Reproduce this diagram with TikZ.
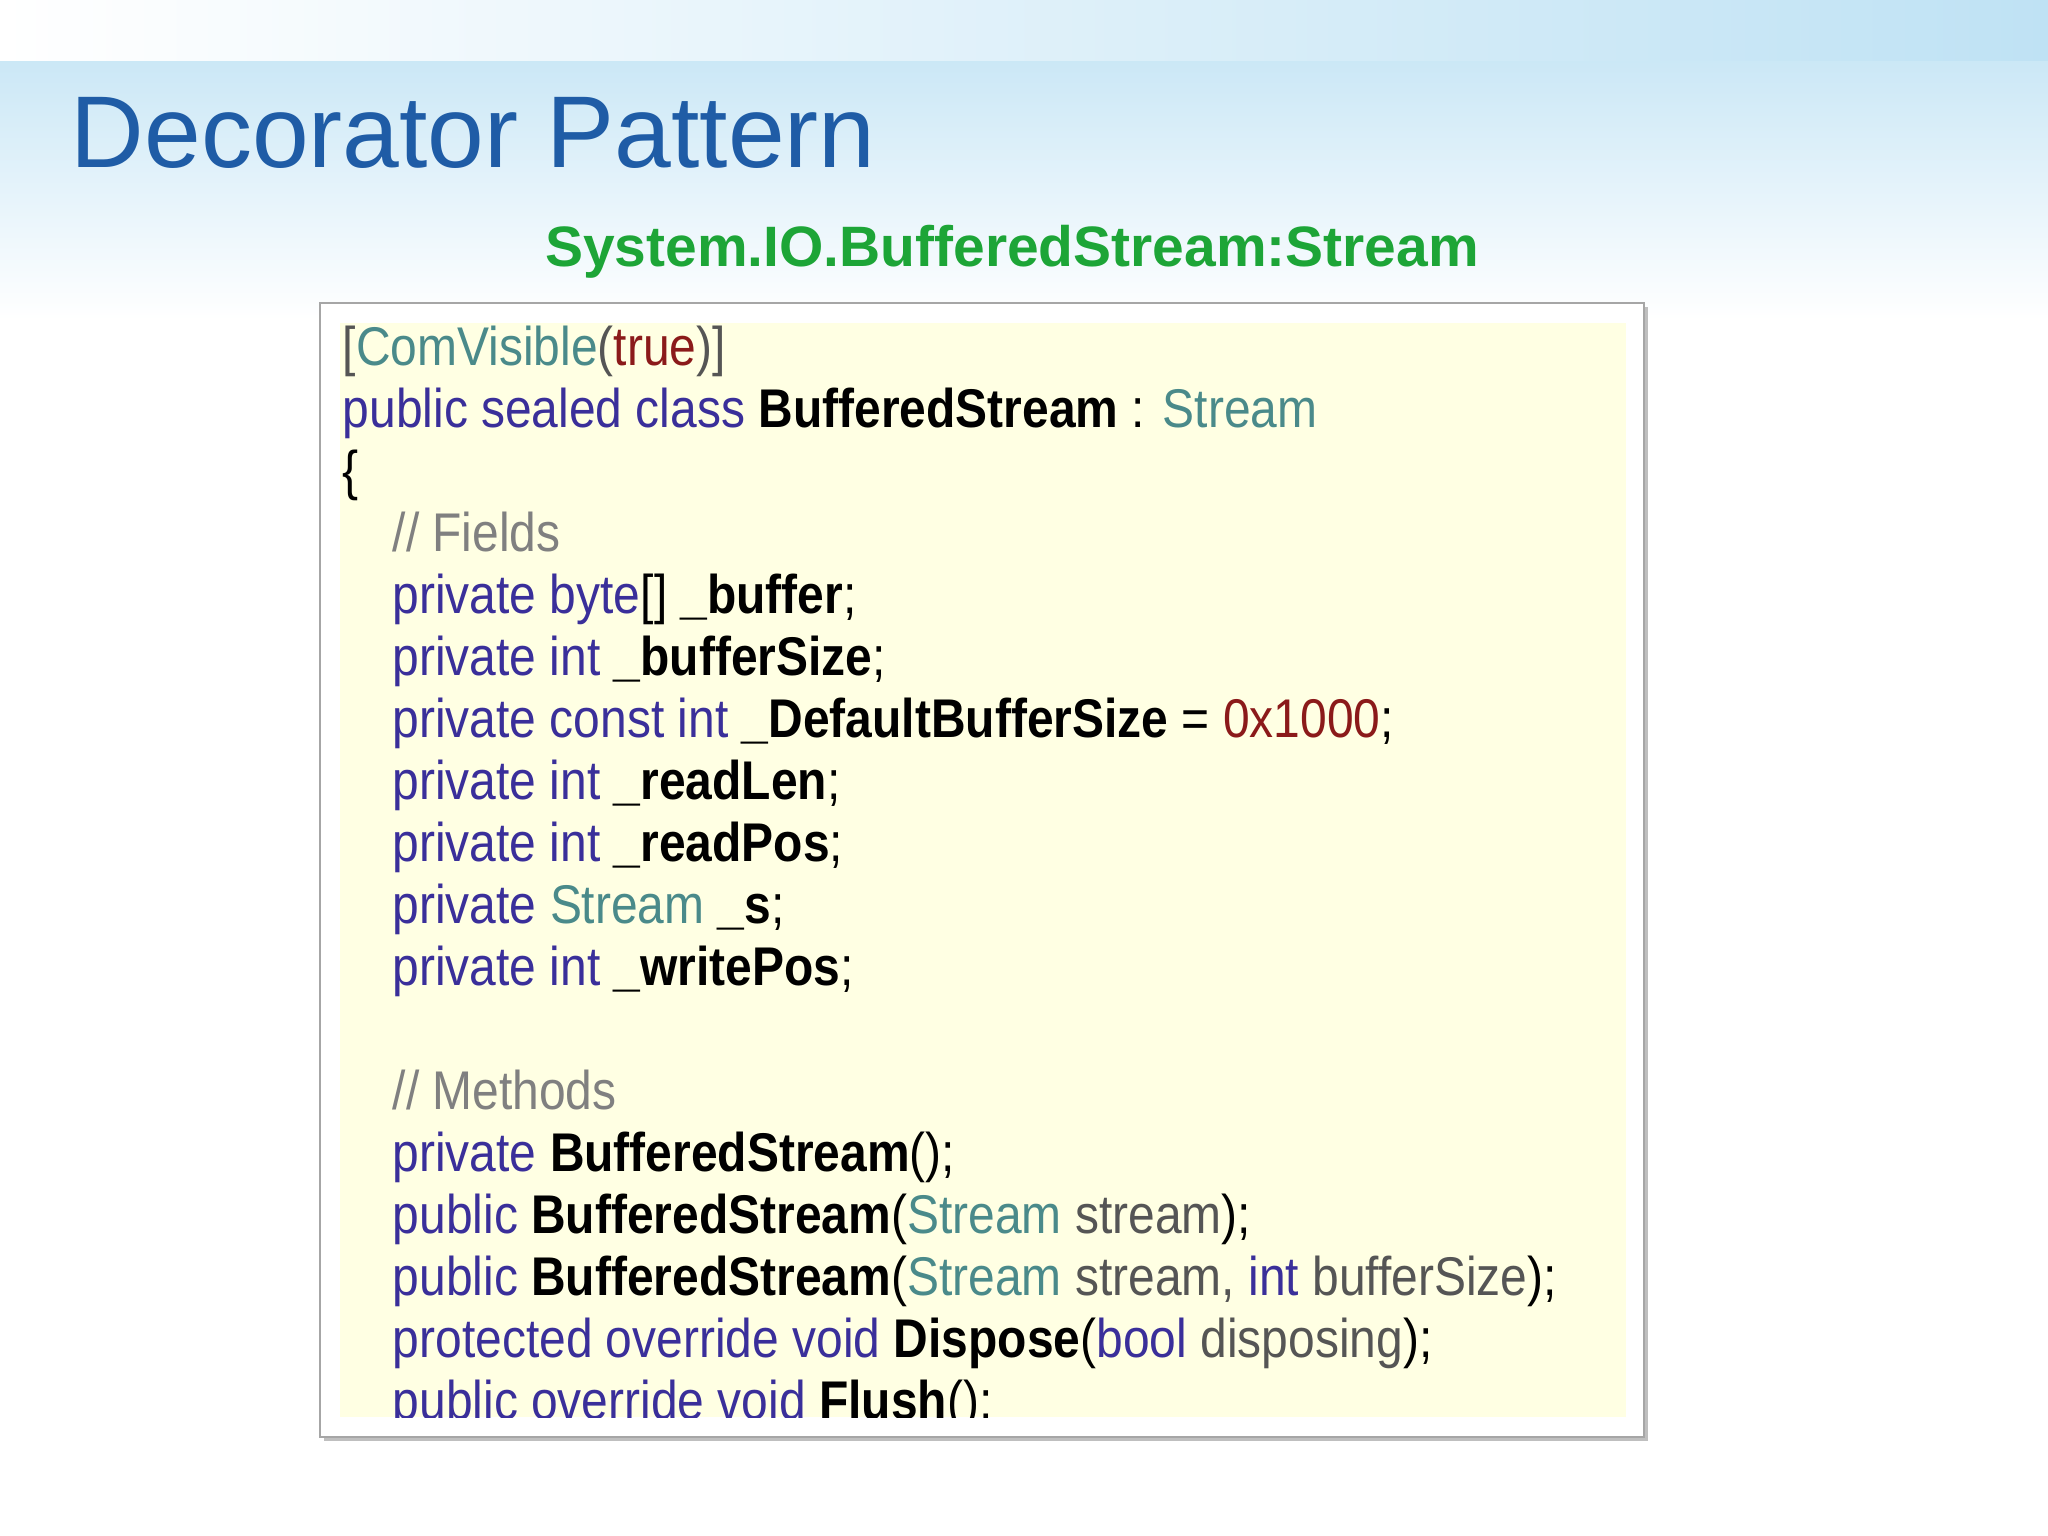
\documentclass[tikz,border=0pt]{standalone}
\usepackage{fontspec}
\setmainfont{Liberation Sans}
\newfontfamily\codefont[FakeStretch=0.88]{Liberation Sans}
\definecolor{titleblue}{HTML}{1F5CA6}
\definecolor{subgreen}{HTML}{1DA537}
\definecolor{kwc}{HTML}{3A2F9A}
\definecolor{tyc}{HTML}{4A8A8A}
\definecolor{cmc}{HTML}{808080}
\definecolor{strc}{HTML}{8B1A1A}
\definecolor{pc}{HTML}{555555}
\definecolor{codebg}{HTML}{FFFFE3}
\definecolor{skyblue}{HTML}{BFE2F4}
\newcommand{\kw}[1]{\textcolor{kwc}{#1}}
\newcommand{\ty}[1]{\textcolor{tyc}{#1}}
\newcommand{\cmt}[1]{\textcolor{cmc}{#1}}
\newcommand{\idn}[1]{\textbf{#1}}
\newcommand{\prm}[1]{\textcolor{pc}{#1}}
\tikzset{codeline/.style={anchor=base west,inner sep=0pt,font=\codefont\fontsize{15.5}{18}\selectfont}}
\begin{document}
\begin{tikzpicture}[x=0.01cm,y=-0.01cm]
\useasboundingbox (0,0) rectangle (2048,1536);
\fill[white] (0,0) rectangle (2048,1536);
\shade[top color=skyblue, bottom color=white] (0,0) rectangle (2048,320);
\shade[left color=white, right color=skyblue] (0,0) rectangle (2048,60);
\node[anchor=base west,inner sep=0pt,text=titleblue,font=\fontsize{29}{34}\selectfont] (title) at (70,167) {Decorator Pattern};
\node[anchor=base,inner sep=0pt,text=subgreen,font=\bfseries\fontsize{16.2}{19}\selectfont] (sub) at (1012,266) {System.IO.BufferedStream:Stream};
\fill[black!25] (324,307) rectangle (1648,1441);
\draw[black!35,fill=white] (320,303) rectangle (1644,1437);
\fill[codebg] (340,323) rectangle (1626,1417);
\begin{scope}
\clip (340,323) rectangle (1626,1417);
\def\lx{342}\def\ix{392}
\node[codeline] (l1) at (\lx,365) {\prm{[}\ty{ComVisible}\prm{(}\textcolor{strc}{true}\prm{)]}};
\node[codeline] (l2) at (\lx,427) {\kw{public sealed class} \idn{BufferedStream} : \ty{Stream}};
\node[codeline] (l3) at (\lx,489) {\{};
\node[codeline] (l4) at (\ix,551) {\cmt{// Fields}};
\node[codeline] (l5) at (\ix,613) {\kw{private byte}[] \idn{\_buffer};};
\node[codeline] (l6) at (\ix,675) {\kw{private int} \idn{\_bufferSize};};
\node[codeline] (l7) at (\ix,737) {\kw{private const int} \idn{\_DefaultBufferSize} = \textcolor{strc}{0x1000};};
\node[codeline] (l8) at (\ix,799) {\kw{private int} \idn{\_readLen};};
\node[codeline] (l9) at (\ix,861) {\kw{private int} \idn{\_readPos};};
\node[codeline] (l10) at (\ix,923) {\kw{private} \ty{Stream} \idn{\_s};};
\node[codeline] (l11) at (\ix,985) {\kw{private int} \idn{\_writePos};};
\node[codeline] (l12) at (\ix,1109) {\cmt{// Methods}};
\node[codeline] (l13) at (\ix,1171) {\kw{private} \idn{BufferedStream}();};
\node[codeline] (l14) at (\ix,1233) {\kw{public} \idn{BufferedStream}(\prm{\ty{Stream} stream});};
\node[codeline] (l15) at (\ix,1295) {\kw{public} \idn{BufferedStream}(\prm{\ty{Stream} stream, \kw{int} bufferSize});};
\node[codeline] (l16) at (\ix,1357) {\kw{protected override void} \idn{Dispose}(\prm{\kw{bool} disposing});};
\node[codeline] (l17) at (\ix,1419) {\kw{public override void} \idn{Flush}();};
\end{scope}
\end{tikzpicture}
\end{document}
